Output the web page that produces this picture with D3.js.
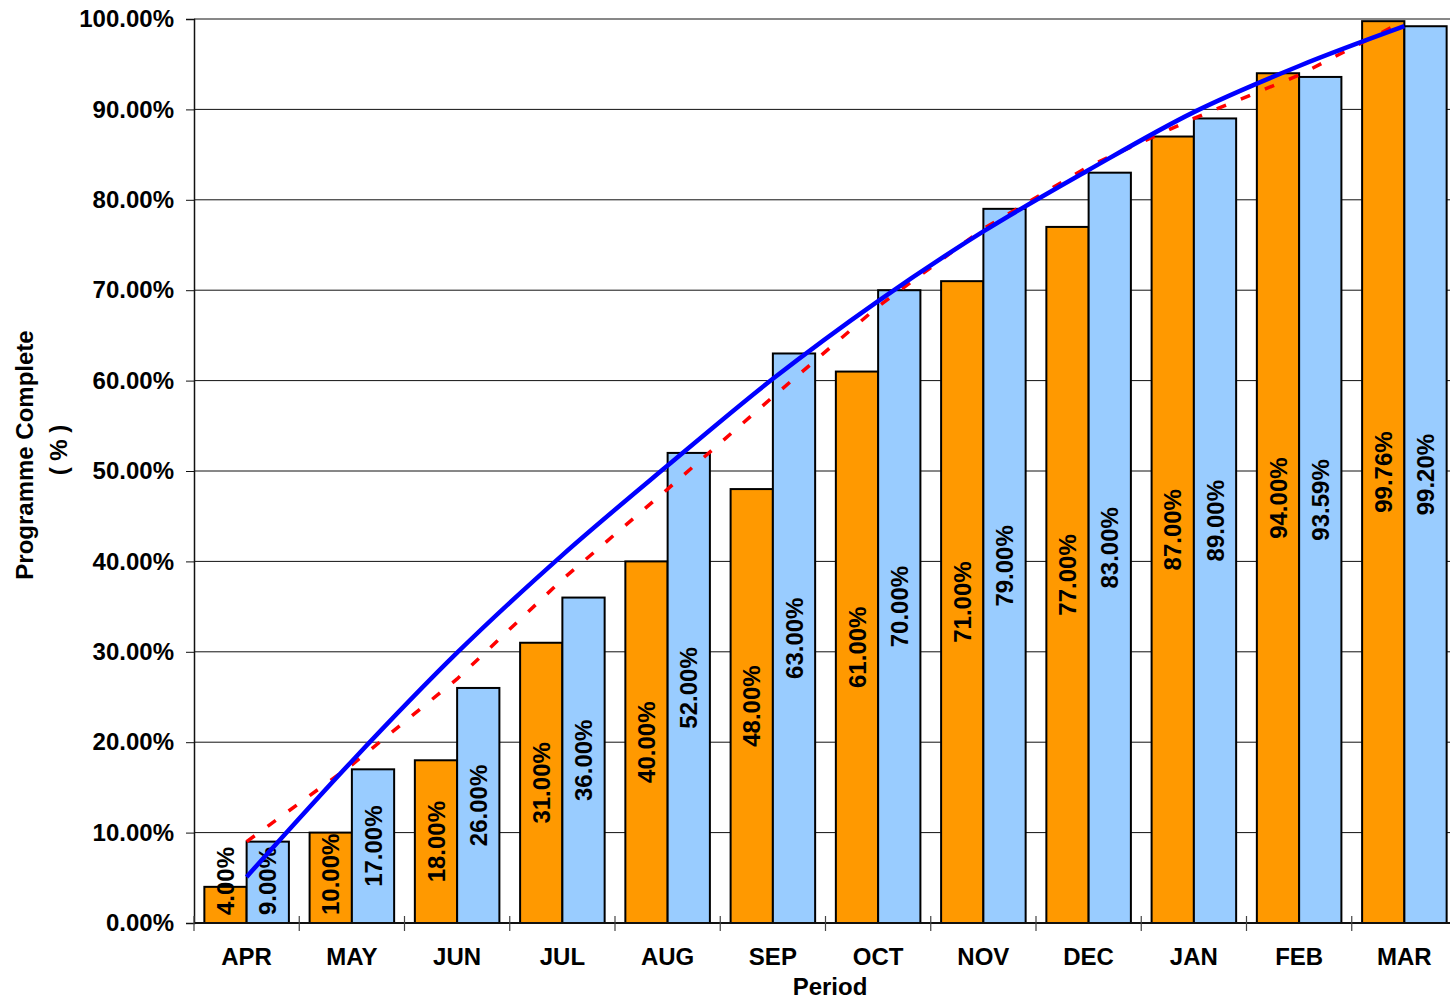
<!DOCTYPE html>
<html>
<head>
<meta charset="utf-8">
<script src="https://cdn.jsdelivr.net/npm/d3@7/dist/d3.min.js"></script>
<style>
  html, body { margin: 0; padding: 0; background: #fff; }
  svg { display: block; font-family: "Liberation Sans", Arial, sans-serif; font-weight: bold; }
</style>
</head>
<body>
<svg id="chart" width="1450" height="1000"></svg>
<script>
// Reporting periods (financial year)
const months = ["APR", "MAY", "JUN", "JUL", "AUG", "SEP", "OCT", "NOV", "DEC", "JAN", "FEB", "MAR"];

// Cumulative programme completion, % (two bar series)
const actualPct  = [4, 10, 18, 31, 40, 48, 61, 71, 77, 87, 94, 99.76];
const plannedPct = [9, 17, 26, 36, 52, 63, 70, 79, 83, 89, 93.59, 99.2];

// Smooth trend curve through the period centres, %
const trendPct = [5.1, 17.9, 29.9, 40.7, 50.6, 60.2, 68.8, 76.5, 83.3, 89.7, 94.8, 99.2];

// Dashed target profile, %
const targetPct = [9, 17.5, 27, 38, 48, 58.2, 68.2, 76.8, 83.7, 89, 93.8, 99.8];

// Value axis ticks
const yTicks = [0, 10, 20, 30, 40, 50, 60, 70, 80, 90, 100];

const svg = d3.select("#chart");
const plotLeft = 194, plotRight = 1457, plotTop = 19, plotBottom = 923;
const FONT = 24;

const x = d3.scaleBand().domain(months).range([plotLeft, plotRight]).paddingInner(0).paddingOuter(0);
const xi = d3.scaleBand().domain(["actual", "planned"]).range([0, x.bandwidth()]).paddingInner(0).paddingOuter(0.245);
const y = d3.scaleLinear().domain([0, 100]).range([plotBottom, plotTop]);
const fmt = v => v.toFixed(2) + "%";

// Horizontal gridlines
svg.append("g")
  .selectAll("line")
  .data(yTicks.filter(d => d > 0))
  .join("line")
  .attr("x1", plotLeft).attr("x2", plotRight)
  .attr("y1", d => y(d)).attr("y2", d => y(d))
  .attr("stroke", "#111").attr("stroke-width", 1);

// Y axis with outward ticks
const yAxis = svg.append("g")
  .attr("transform", `translate(${plotLeft},0)`)
  .call(d3.axisLeft(y).tickValues(yTicks).tickSize(8).tickPadding(12).tickFormat(fmt));
yAxis.select(".domain").attr("stroke", "#111").attr("stroke-width", 1.5);
yAxis.selectAll(".tick line").attr("stroke", "#111");
yAxis.selectAll(".tick text")
  .attr("font-size", FONT).attr("font-weight", "bold").attr("fill", "#000")
  .attr("font-family", "'Liberation Sans', Arial, sans-serif");

// Bars
const series = [
  { key: "actual", values: actualPct, color: "#FF9900" },
  { key: "planned", values: plannedPct, color: "#99CCFF" }
];

const barG = svg.append("g");
series.forEach(s => {
  barG.append("g")
    .selectAll("rect")
    .data(months.map((m, i) => ({ m, v: s.values[i] })))
    .join("rect")
    .attr("x", d => x(d.m) + xi(s.key))
    .attr("width", xi.bandwidth())
    .attr("y", d => y(d.v))
    .attr("height", d => y(0) - y(d.v))
    .attr("fill", s.color)
    .attr("stroke", "#000")
    .attr("stroke-width", 2);
});

// X axis line, category boundary ticks and labels
svg.append("line")
  .attr("x1", plotLeft).attr("x2", plotRight)
  .attr("y1", plotBottom).attr("y2", plotBottom)
  .attr("stroke", "#111").attr("stroke-width", 2);

const boundaries = months.map(m => x(m)).concat([x(months[months.length - 1]) + x.bandwidth()]);
svg.append("g")
  .selectAll("line")
  .data(boundaries)
  .join("line")
  .attr("x1", d => d).attr("x2", d => d)
  .attr("y1", plotBottom - 7).attr("y2", plotBottom + 8)
  .attr("stroke", "#444").attr("stroke-width", 1.2);

svg.append("g")
  .selectAll("text")
  .data(months)
  .join("text")
  .attr("x", d => x(d) + x.bandwidth() / 2)
  .attr("y", 965)
  .attr("text-anchor", "middle")
  .attr("font-size", FONT)
  .text(d => d);

// Value labels, rotated, centred in each bar and kept above the axis
const labelG = svg.append("g");
series.forEach(s => {
  months.forEach((m, i) => {
    const v = s.values[i];
    const cx = x(m) + xi(s.key) + xi.bandwidth() / 2;
    const t = labelG.append("text")
      .attr("text-anchor", "middle")
      .attr("font-size", FONT)
      .attr("dy", "0.36em")
      .text(fmt(v));
    const len = t.node().getComputedTextLength();
    const mid = (y(v) + y(0)) / 2;
    const cy = Math.min(mid, y(0) - 8 - len / 2);
    t.attr("transform", `translate(${cx},${cy}) rotate(-90)`);
  });
});

// Dashed target profile
const centre = m => x(m) + x.bandwidth() / 2;
svg.append("path")
  .datum(targetPct)
  .attr("fill", "none")
  .attr("stroke", "#FF0000")
  .attr("stroke-width", 3.5)
  .attr("stroke-dasharray", "10,16")
  .attr("d", d3.line().x((d, i) => centre(months[i])).y(d => y(d)));

// Smooth trend curve
svg.append("path")
  .datum(trendPct)
  .attr("fill", "none")
  .attr("stroke", "#0000FF")
  .attr("stroke-width", 4.5)
  .attr("d", d3.line().x((d, i) => centre(months[i])).y(d => y(d)).curve(d3.curveMonotoneX));

// Axis titles
svg.append("text")
  .attr("x", 830).attr("y", 995)
  .attr("text-anchor", "middle")
  .attr("font-size", FONT)
  .text("Period");

svg.append("text")
  .attr("transform", "translate(33,455) rotate(-90)")
  .attr("text-anchor", "middle")
  .attr("font-size", FONT)
  .text("Programme Complete");

svg.append("text")
  .attr("transform", "translate(67,450) rotate(-90)")
  .attr("text-anchor", "middle")
  .attr("font-size", FONT)
  .text("( % )");
</script>
</body>
</html>
